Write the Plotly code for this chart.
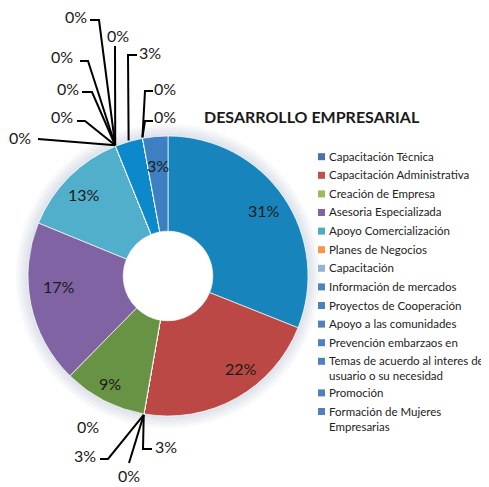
import math
import plotly.graph_objects as go

# page body has an 8px default margin, so the figure is drawn 8px smaller
PAGE_OFF = 8
W, H = 489 - PAGE_OFF, 487 - PAGE_OFF

# ---------------- data (pie order, clockwise from 12 o'clock) ----------------
slice_names = [
    "Capacitación Técnica", "Capacitación Administrativa",
    "Sin nombre 1", "Sin nombre 2", "Sin nombre 3", "Sin nombre 4",
    "Creación de Empresa", "Asesoria Especializada", "Apoyo Comercialización",
    "Planes de Negocios", "Capacitación", "Información de mercados",
    "Proyectos de Cooperación", "Apoyo a las comunidades", "Prevención embarzaos en",
    "Temas de acuerdo al interes de usuario o su necesidad",
    "Promoción", "Formación de Mujeres Empresarias", "Sin nombre 5",
]
slice_values = [31.0, 21.7, 0, 0, 0, 0, 9.6, 18.8, 12.7,
                0, 0, 0, 0, 0, 0, 3.2, 0, 0, 2.9]
slice_pct_text = ["31%", "22%", "3%", "0%", "3%", "0%", "9%", "17%", "13%",
                  "0%", "0%", "0%", "0%", "0%", "0%", "3%", "0%", "0%", "3%"]

legend_names = [
    "Capacitación Técnica", "Capacitación Administrativa", "Creación de Empresa",
    "Asesoria Especializada", "Apoyo Comercialización", "Planes de Negocios",
    "Capacitación", "Información de mercados", "Proyectos de Cooperación",
    "Apoyo a las comunidades", "Prevención embarzaos en",
    "Temas de acuerdo al interes de<br>usuario o su necesidad",
    "Promoción", "Formación de Mujeres<br>Empresarias",
]
legend_colors = ["#4A72A8", "#C0504D", "#9BBB59", "#8064A2", "#4BACC6", "#F79646",
                 "#95B3D7", "#4F81BD", "#4F81BD", "#4F81BD", "#4F81BD", "#4F81BD",
                 "#4F81BD", "#4F81BD"]

title_text = "DESARROLLO EMPRESARIAL"

# ---------------- styles / layout ----------------
slice_colors = ["#1784BC", "#BB4844", "#999999", "#999999", "#999999", "#999999",
                "#699344", "#7F63A3", "#52AFCB", "#F79646", "#95B3D7", "#4F81BD",
                "#4F81BD", "#4F81BD", "#4F81BD", "#0B89CB", "#4F81BD", "#4F81BD",
                "#3D7FC1"]
FONT = "Lato, 'Open Sans', sans-serif"
CX, CY, R = 168, 276, 140          # pie centre / radius in window px
HOLE = 0.32
SHADOW_STEPS = [12, 9, 6, 3]       # soft glow rings around the donut (px)


def px(x):
    return (x - PAGE_OFF) / W


def py(y):
    return 1 - (y - PAGE_OFF) / H


# inside labels: slice index -> (angle nudge deg, radius fraction)
inside_labels = {0: (0, 0.83), 1: (-9, 0.84), 6: (1, 0.87), 7: (6, 0.78),
                 8: (-1, 0.84), 18: (0, 0.79)}
# outside labels: slice index -> (text centre px, leader points from label towards slice)
outside_labels = {
    2: ((166, 446), [(152, 449), (143, 449)]),
    3: ((129, 475), [(129, 463)]),
    4: ((85, 455), [(100, 459), (108, 459)]),
    5: ((88, 426), None),
    9: ((76, 17), [(90, 20), (99, 20)]),
    10: ((118, 36), [(115, 46)]),
    11: ((62, 57), [(80, 61), (88, 61)]),
    12: ((68, 88), [(82, 92), (92, 92)]),
    13: ((62, 117), [(77, 121), (85, 121)]),
    14: ((20, 137), [(38, 139)]),
    15: ((150, 52), [(137, 55), (128, 55)]),
    16: ((165, 89), [(153, 91), (145, 91)]),
    17: ((165, 117), [(153, 121), (145, 121)]),
}

total = sum(slice_values)
mid_angles = []
acc = 0.0
for v in slice_values:
    mid_angles.append((acc + v / 2) / total * 360.0)
    acc += v

fig = go.Figure()

# soft shadow ring just outside the donut
for s in SHADOW_STEPS:
    fig.add_trace(go.Pie(
        values=[1], labels=[f"sombra {s}"], textinfo="none", hoverinfo="skip",
        showlegend=False, sort=False, hole=R / (R + s),
        marker=dict(colors=["rgba(120,140,165,0.06)"], line=dict(width=0)),
        domain=dict(x=[px(CX - R - s), px(CX + R + s)],
                    y=[py(CY + R + s), py(CY - R - s)]),
    ))

fig.add_trace(go.Pie(
    labels=slice_names, values=slice_values, sort=False, direction="clockwise",
    rotation=0, hole=HOLE, textinfo="none", hoverinfo="label+percent",
    showlegend=False,
    marker=dict(colors=slice_colors, line=dict(color="rgba(255,255,255,0.85)", width=0.8)),
    domain=dict(x=[px(CX - R), px(CX + R)], y=[py(CY + R), py(CY - R)]),
))

annotations = []
shapes = []

for i, (nudge, rf) in inside_labels.items():
    a = math.radians(mid_angles[i] + nudge)
    x = CX + R * rf * math.sin(a)
    y = CY - R * rf * math.cos(a)
    annotations.append(dict(x=px(x), y=py(y), xref="paper", yref="paper",
                            text=slice_pct_text[i], showarrow=False,
                            xanchor="center", yanchor="middle",
                            font=dict(family=FONT, size=16, color="#1a1a1a")))

for i, ((tx, ty), pts) in outside_labels.items():
    annotations.append(dict(x=px(tx), y=py(ty), xref="paper", yref="paper",
                            text=slice_pct_text[i], showarrow=False,
                            xanchor="center", yanchor="middle",
                            font=dict(family=FONT, size=16, color="#1a1a1a")))
    if pts:
        a = math.radians(mid_angles[i])
        ax = CX + (R + 1) * math.sin(a)
        ay = CY - (R + 1) * math.cos(a)
        allp = pts + [(ax, ay)]
        path = "M " + " L ".join(f"{px(x):.5f},{py(y):.5f}" for x, y in allp)
        shapes.append(dict(type="path", path=path, xref="paper", yref="paper",
                           line=dict(color="#000000", width=2)))

# legend (manual)
ly = 156.7
for name, col in zip(legend_names, legend_colors):
    shapes.append(dict(type="rect", xref="paper", yref="paper",
                       x0=px(318), x1=px(325), y0=py(ly + 3.5), y1=py(ly - 3.5),
                       fillcolor=col, line=dict(width=0)))
    annotations.append(dict(x=px(327), y=py(ly - 9), xref="paper", yref="paper",
                            text=name, showarrow=False, xanchor="left", yanchor="top",
                            align="left",
                            font=dict(family=FONT, size=11.5, color="#222222")))
    ly += 18.6 + 13 * name.count("<br>")

annotations.append(dict(x=px(312), y=py(117), xref="paper", yref="paper",
                        text=f"<b>{title_text}</b>", showarrow=False,
                        xanchor="center", yanchor="middle",
                        font=dict(family=FONT, size=16, color="#1a1a1a")))

fig.update_layout(
    width=W, height=H, margin=dict(l=0, r=0, t=0, b=0, autoexpand=False),
    paper_bgcolor="white", plot_bgcolor="white",
    annotations=annotations, shapes=shapes,
)

fig.write_html("out.html")
